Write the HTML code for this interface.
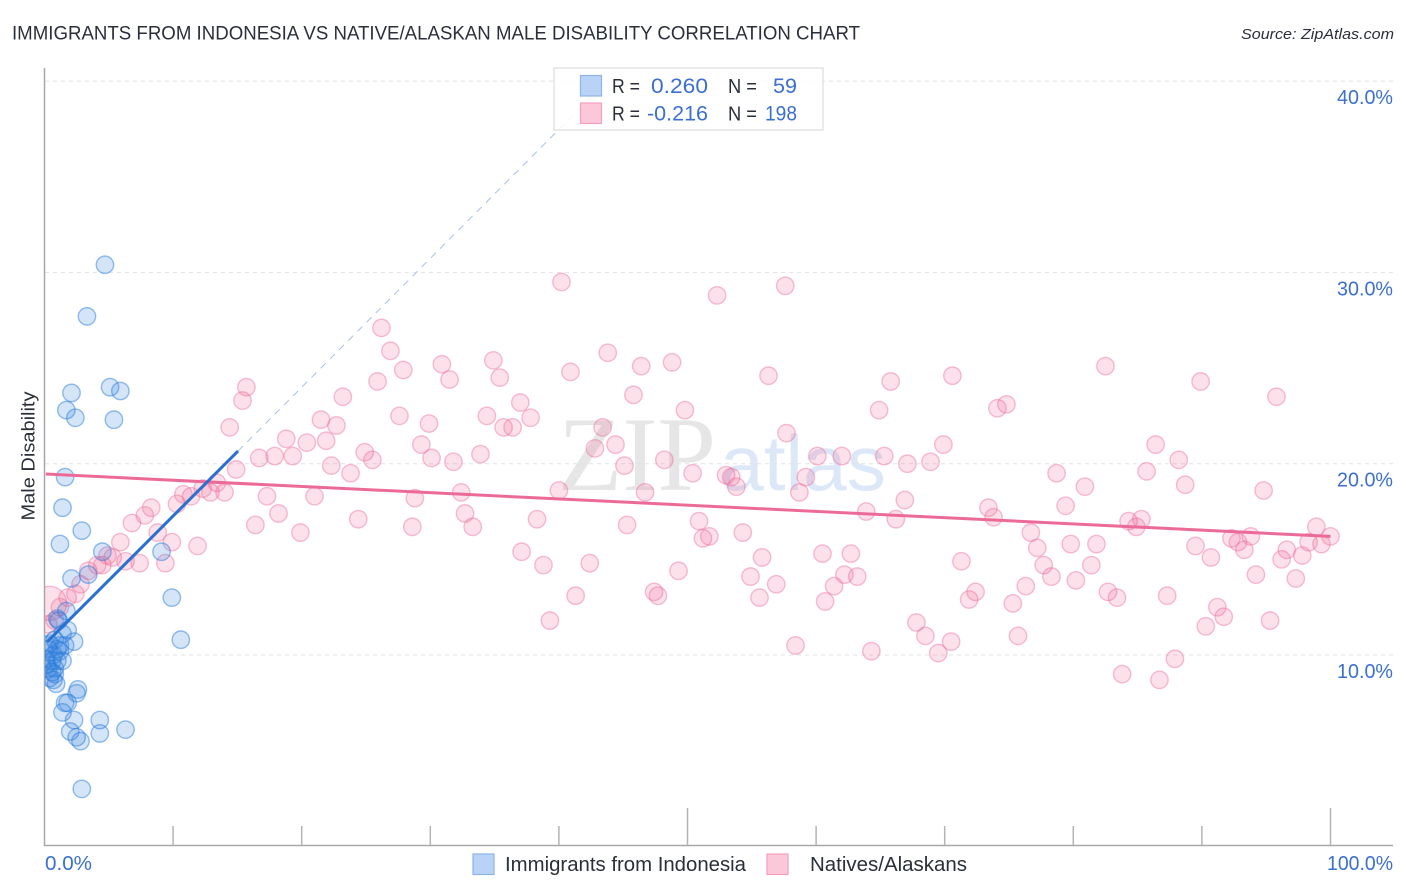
<!DOCTYPE html>
<html lang="en">
<head>
<meta charset="utf-8">
<title>Immigrants from Indonesia vs Native/Alaskan Male Disability Correlation Chart</title>
<style>
html,body{margin:0;padding:0;background:#fff;}
svg{display:block;font-family:"Liberation Sans",sans-serif;}
</style>
</head>
<body>
<svg id="chart" xmlns="http://www.w3.org/2000/svg" width="1406" height="892" viewBox="0 0 1406 892">
  <defs><clipPath id="plot-clip"><rect x="45" y="60" width="1350" height="785"/></clipPath></defs>
  <text x="12" y="39.5" font-size="19.5" fill="#2a2f3a" textLength="848" lengthAdjust="spacingAndGlyphs">IMMIGRANTS FROM INDONESIA VS NATIVE/ALASKAN MALE DISABILITY CORRELATION CHART</text>
  <text x="1394" y="39" font-size="15" font-style="italic" fill="#2a2f3a" text-anchor="end" textLength="153" lengthAdjust="spacingAndGlyphs">Source: ZipAtlas.com</text>
  <g>
    <text x="558" y="490" font-family="'Liberation Serif',serif" font-size="106" fill="#e6e6e6" textLength="158" lengthAdjust="spacingAndGlyphs">ZIP</text>
    <text x="720" y="490" font-size="78" fill="#dce8f8" textLength="166" lengthAdjust="spacingAndGlyphs">atlas</text>
  </g>
  <g id="grid"></g>
  <g id="axes"></g>
  <g id="points" clip-path="url(#plot-clip)"></g>
  <g id="trends"></g>
  <text transform="translate(34.5,456) rotate(-90)" font-size="18.5" fill="#2a2f3a" text-anchor="middle" textLength="129" lengthAdjust="spacingAndGlyphs">Male Disability</text>

  <g>
    <rect x="554" y="68" width="269" height="62" fill="#fff" fill-opacity="0.86" stroke="#dcdcdc" stroke-width="1.2"/>
    <rect x="580.5" y="75.5" width="21" height="20.5" fill="#b9d3f7" stroke="#8fb4e8" stroke-width="1.2"/>
    <rect x="580.5" y="103" width="21" height="20.5" fill="#fbc8d9" stroke="#f2a1bd" stroke-width="1.2"/>
    <text x="612" y="93" font-size="20" fill="#2a2f3a" textLength="28" lengthAdjust="spacingAndGlyphs">R =</text>
    <text x="708" y="93" font-size="21.5" fill="#3b6fd1" text-anchor="end" textLength="57" lengthAdjust="spacingAndGlyphs">0.260</text>
    <text x="728" y="93" font-size="20" fill="#2a2f3a" textLength="29" lengthAdjust="spacingAndGlyphs">N =</text>
    <text x="797" y="93" font-size="21.5" fill="#3b6fd1" text-anchor="end" textLength="24" lengthAdjust="spacingAndGlyphs">59</text>
    <text x="612" y="120.5" font-size="20" fill="#2a2f3a" textLength="28" lengthAdjust="spacingAndGlyphs">R =</text>
    <text x="708" y="120.5" font-size="21.5" fill="#3b6fd1" text-anchor="end" textLength="61" lengthAdjust="spacingAndGlyphs">-0.216</text>
    <text x="728" y="120.5" font-size="20" fill="#2a2f3a" textLength="29" lengthAdjust="spacingAndGlyphs">N =</text>
    <text x="797" y="120.5" font-size="21.5" fill="#3b6fd1" text-anchor="end" textLength="32" lengthAdjust="spacingAndGlyphs">198</text>
  </g>

  <g>
    <g>
      <rect x="473" y="854" width="21" height="20.5" fill="#b9d3f7" stroke="#8fb4e8" stroke-width="1.2"/>
      <text x="505" y="871" font-size="20" fill="#2a2f3a" textLength="241" lengthAdjust="spacingAndGlyphs">Immigrants from Indonesia</text>
    </g>
    <g>
      <rect x="767" y="854" width="21" height="20.5" fill="#fbc8d9" stroke="#f2a1bd" stroke-width="1.2"/>
      <text x="810" y="871" font-size="20" fill="#2a2f3a" textLength="157" lengthAdjust="spacingAndGlyphs">Natives/Alaskans</text>
    </g>
  </g>
</svg>
<script>
const yTickValues = [10, 20, 30, 40];
const yTickLabels = ["10.0%", "20.0%", "30.0%", "40.0%"];
const xTickValues = [10, 20, 30, 40, 50, 60, 70, 80, 90, 100];
const xEndLabels = ["0.0%", "100.0%"];

const indonesiaX = [4.7,3.3,2.1,5.1,5.9,1.7,2.4,5.4,1.6,1.4,2.9,1.2,4.5,9.1,3.4,2.1,9.9,10.6,1.7,1.1,1.0,1.8,1.4,2.3,0.8,0.4,0.3,1.2,1.6,1.0,0.6,1.0,1.4,0.2,0.6,0.8,0.4,0.7,0.9,0.2,0.7,1.2,0.1,0.3,0.8,2.6,2.5,1.8,1.6,1.4,2.3,4.3,4.3,6.3,2.0,2.5,2.8,2.9];
const indonesiaY = [30.4,27.7,23.7,24.0,23.8,22.8,22.4,22.3,19.3,17.7,16.5,15.8,15.4,15.4,14.2,14.0,13.0,10.8,12.3,11.8,11.9,11.3,11.1,10.7,10.8,10.6,10.3,10.5,10.5,10.3,9.7,9.7,9.7,9.5,9.1,9.0,8.8,8.7,8.5,10.5,10.0,10.2,9.8,9.3,9.3,8.2,8.0,7.5,7.5,7.0,6.6,6.6,5.9,6.1,6.0,5.7,5.5,3.0];

const nativesX = [40.2,57.6,52.3,26.2,26.9,43.8,30.9,34.9,48.8,46.4,27.9,40.9,35.4,31.5,25.9,56.3,70.6,65.8,82.5,89.9,15.7,15.4,23.2,45.8,95.8,37.0,27.6,34.4,37.8,49.8,64.9,74.1,74.8,21.5,14.4,22.7,29.9,35.7,36.4,43.4,57.7,18.8,21.9,20.4,29.3,86.4,42.8,44.4,69.9,24.9,16.7,17.9,19.3,25.5,30.1,33.9,31.8,48.2,60.1,62.0,65.3,67.1,68.9,88.2,14.9,22.3,23.8,45.1,50.4,53.0,53.4,59.2,78.7,85.7,88.7,80.9,13.4,12.3,12.9,14.0,11.4,10.8,10.3,8.3,7.8,6.8,8.8,9.9,11.9,5.9,16.4,17.3,21.0,28.8,32.4,40.0,46.7,53.8,58.7,66.9,94.8,18.2,24.4,28.6,32.7,33.3,38.3,45.3,50.9,63.9,66.2,73.4,73.8,79.4,19.9,76.7,51.2,51.7,54.3,84.3,84.9,85.3,98.9,100.0,37.1,77.2,79.8,81.8,89.5,92.3,92.8,93.8,99.3,98.3,4.5,5.3,4.9,6.3,7.4,3.4,4.1,2.8,1.8,2.4,1.2,0.8,0.3,9.4,38.8,42.4,55.8,60.5,62.7,71.3,90.7,93.3,96.6,96.2,97.8,77.7,81.4,49.3,54.9,62.2,63.2,94.2,78.3,80.2,97.3,41.3,47.4,47.7,56.9,55.6,60.7,61.4,71.9,72.4,76.3,75.3,82.7,83.4,87.3,91.2,91.7,39.3,95.3,90.3,67.8,68.5,70.5,75.7,58.4,64.3,69.5,87.9,83.8,86.7];
const nativesY = [29.5,29.3,28.8,27.1,25.9,25.8,25.2,25.4,25.3,25.1,24.9,24.8,24.5,24.4,24.3,24.6,24.6,24.3,25.1,24.3,24.0,23.3,23.5,23.6,23.5,23.2,22.5,22.5,22.4,22.8,22.8,22.9,23.1,22.3,21.9,22.0,22.1,21.9,21.9,21.9,21.6,21.3,21.2,21.1,21.0,21.0,20.8,21.0,21.0,20.6,20.3,20.4,20.4,20.2,20.3,20.5,20.1,20.2,20.4,20.4,20.4,20.0,20.1,20.2,19.7,19.9,19.5,19.9,19.5,19.4,19.3,19.3,19.5,19.6,18.9,18.8,19.0,18.7,18.5,18.5,18.3,18.4,17.9,17.7,17.3,16.9,16.4,15.9,15.7,15.9,16.8,18.3,18.3,18.2,18.5,18.6,18.5,18.8,18.5,18.1,18.6,17.4,17.1,16.7,17.4,16.7,17.1,16.8,17.0,17.5,17.1,17.7,17.2,17.8,16.4,16.4,16.1,16.2,16.4,17.0,16.7,17.1,16.7,16.2,15.4,15.6,15.8,15.8,15.7,16.1,15.9,16.2,15.8,15.9,14.7,15.1,15.2,14.9,14.8,14.4,14.7,13.7,13.0,13.2,12.5,11.8,11.6,14.8,14.7,14.8,15.1,15.3,15.3,14.9,15.1,15.5,15.5,15.0,15.2,14.7,14.7,14.4,14.1,14.2,14.1,14.2,14.1,13.9,14.0,13.1,13.3,13.1,13.7,13.0,12.8,13.6,12.9,13.3,13.6,12.7,13.3,13.0,13.1,12.5,12.0,11.8,11.8,11.5,11.7,11.0,10.7,11.0,10.5,10.2,10.1,9.8,9.0,8.7];
const nativesLargeX = [0.4];
const nativesLargeY = [12.7];

const indonesiaTrendX = [0.2, 15.05];
const indonesiaTrendY = [10.68, 20.66];
const indonesiaProjectionX = [15.05, 44.2];
const indonesiaProjectionY = [20.66, 40.3];
const nativesTrendX = [0.1, 100];
const nativesTrendY = [19.46, 16.2];

const SVG_NS = "http://www.w3.org/2000/svg";
function xScale(v) { return 44.5 + v * 12.86; }
function yScale(v) { return 655 - (v - 10) * 19.13; }
function make(tag, attrs, parent) {
  const el = document.createElementNS(SVG_NS, tag);
  for (const k in attrs) el.setAttribute(k, attrs[k]);
  parent.appendChild(el);
  return el;
}
const gridG = document.getElementById("grid");
const axesG = document.getElementById("axes");
const pointsG = document.getElementById("points");
const trendsG = document.getElementById("trends");

yTickValues.forEach(function (v, i) {
  const line = make("line", {x1: 45, x2: 1393, y1: yScale(v), y2: yScale(v), stroke: "#e2e2e2", "stroke-width": 1, "stroke-dasharray": "4 4"}, gridG);
  
  
  const label = make("text", {x: 1393, y: yScale(v) + 23, "font-size": 20, fill: "#3b6fd1", "text-anchor": "end", textLength: 56, lengthAdjust: "spacingAndGlyphs"}, axesG);
  label.textContent = yTickLabels[i];
  
  
});

const yAxis = make("line", {x1: 44.5, x2: 44.5, y1: 68, y2: 846, stroke: "#a8a8a8", "stroke-width": 1.5}, axesG);


const xAxis = make("line", {x1: 44, x2: 1393, y1: 845.5, y2: 845.5, stroke: "#a8a8a8", "stroke-width": 1.5}, axesG);



xTickValues.forEach(function (v) {
  const top = (v === 50 || v === 100) ? 808 : 826;
  const tick = make("line", {x1: xScale(v), x2: xScale(v), y1: top, y2: 845, stroke: "#b4b4b4", "stroke-width": 1.5}, axesG);
  
  
});

const xStart = make("text", {x: 45, y: 870, "font-size": 20, fill: "#3b6fd1", textLength: 47, lengthAdjust: "spacingAndGlyphs"}, axesG);
xStart.textContent = xEndLabels[0];


const xEnd = make("text", {x: 1327, y: 870, "font-size": 20, fill: "#3b6fd1", textLength: 66, lengthAdjust: "spacingAndGlyphs"}, axesG);
xEnd.textContent = xEndLabels[1];



function drawNative(x, y, r) {
  const c = make("circle", {cx: xScale(x), cy: yScale(y), r: r, fill: "#f06292", "fill-opacity": 0.19, stroke: "#ec6a98", "stroke-opacity": 0.42, "stroke-width": 1.4}, pointsG);
  
  
}
function drawIndonesia(x, y, r) {
  const c = make("circle", {cx: xScale(x), cy: yScale(y), r: r, fill: "#2b7dde", "fill-opacity": 0.2, stroke: "#2b7dde", "stroke-opacity": 0.5, "stroke-width": 1.4}, pointsG);
  
  
}
nativesLargeX.forEach(function (x, i) { drawNative(x, nativesLargeY[i], 17); });
nativesX.forEach(function (x, i) { drawNative(x, nativesY[i], 8.7); });
indonesiaX.forEach(function (x, i) { drawIndonesia(x, indonesiaY[i], 8.7); });

const projection = make("line", {x1: xScale(indonesiaProjectionX[0]), y1: yScale(indonesiaProjectionY[0]), x2: xScale(indonesiaProjectionX[1]), y2: yScale(indonesiaProjectionY[1]), stroke: "#a9c0e8", "stroke-width": 1, "stroke-dasharray": "7 6"}, trendsG);


const nativesTrend = make("line", {x1: xScale(nativesTrendX[0]), y1: yScale(nativesTrendY[0]), x2: xScale(nativesTrendX[1]), y2: yScale(nativesTrendY[1]), stroke: "#ec6a98", "stroke-width": 3}, trendsG);


const indonesiaTrend = make("line", {x1: xScale(indonesiaTrendX[0]), y1: yScale(indonesiaTrendY[0]), x2: xScale(indonesiaTrendX[1]), y2: yScale(indonesiaTrendY[1]), stroke: "#2a70cf", "stroke-width": 3}, trendsG);


</script>
</body>
</html>
